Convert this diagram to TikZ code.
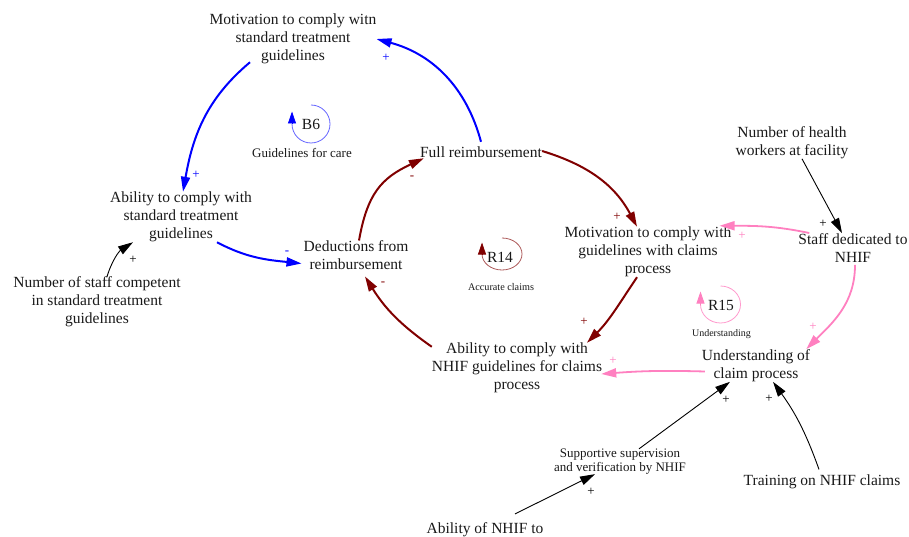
\documentclass[tikz,border=0pt]{standalone}
\usepackage{fontspec}
\setmainfont{Liberation Serif}
\usetikzlibrary{arrows.meta}
\definecolor{cldblue}{RGB}{0,0,255}
\definecolor{cldred}{RGB}{128,0,0}
\definecolor{cldpink}{RGB}{255,128,192}
\definecolor{txtcol}{RGB}{25,25,25}
% invisible struts that fix the height of the first and the depth of the last line
\newcommand{\bigvstrut}{\rule[-2.6pt]{0pt}{18pt}}
\newcommand{\smallvstrut}{\rule[-1.05pt]{0pt}{13.5pt}}

\begin{document}
\begin{tikzpicture}[x=1pt,y=1pt,
  var/.style={align=center, inner sep=0pt, text=txtcol,
    font=\fontsize{15.5}{18}\selectfont,
    execute at begin node=\bigvstrut, execute at end node=\bigvstrut},
  smallvar/.style={align=center, inner sep=0pt, text=txtcol,
    font=\fontsize{13}{13.5}\selectfont,
    execute at begin node=\smallvstrut, execute at end node=\smallvstrut},
  sign/.style={inner sep=0pt, font=\fontsize{13}{13}\selectfont},
  tip/.style={-{Triangle[length=15pt,width=9pt]}},
  blink/.style={tip, cldblue, line width=2pt},
  rlink/.style={tip, cldred, line width=2pt},
  plink/.style={tip, cldpink, line width=1.8pt},
  klink/.style={tip, black, line width=0.9pt},
  loopname/.style={inner sep=0pt, text=txtcol, font=\fontsize{15.5}{18}\selectfont},
  loopnote/.style={inner sep=0pt, text=txtcol},
  looptip/.style={-{Triangle[length=12pt,width=8pt]}, line width=0.8pt}
]
\useasboundingbox (0,0) rectangle (909,-537);

% ---- variables ----
\node[var] (mstd) at (293,-39) {Motivation to comply witn\\standard treatment\\guidelines};
\node[var] (ast) at (181,-217) {Ability to comply with\\standard treatment\\guidelines};
\node[var] (nsc) at (97,-302) {Number of staff competent\\in standard treatment\\guidelines};
\node[var] (ded) at (356,-256.5) {Deductions from\\reimbursement};
\node[var] (full) at (481,-151) {Full reimbursement};
\node[var] (mcl) at (648,-252) {Motivation to comply with\\guidelines with claims\\process};
\node[var] (nhw) at (792,-142.5) {Number of health\\workers at facility};
\node[var] (staff) at (853,-249) {Staff dedicated to\\NHIF};
\node[var] (anh) at (517,-368) {Ability to comply with\\NHIF guidelines for claims\\process};
\node[var] (und) at (756,-365.5) {Understanding of\\claim process};
\node[smallvar] (sup) at (620,-461.5) {Supportive supervision\\and verification by NHIF};
\node[var] (train) at (822,-479) {Training on NHIF claims};
\node[var] (anh2) at (485,-527.5) {Ability of NHIF to};

% ---- B6 loop (blue) ----
\draw[blink] (full.north) to[out=105,in=-15] (mstd.east);
\draw[blink] ([shift={(-43,2)}]mstd.south) to[out=220,in=80] ([xshift=2]ast.north);
\draw[blink] ([xshift=36]ast.south) to[out=-28,in=174] ([shift={(-2,-7)}]ded.west);

% ---- R14 loop (dark red) ----
\draw[rlink] ([xshift=3]ded.north) to[out=80,in=205,looseness=1.15] ([shift={(4,2)}]full.south west);
\draw[rlink] (full.east) to[out=-17,in=118] ([xshift=-11]mcl.north);
\draw[rlink] ([xshift=-11]mcl.south) to[out=236,in=45] ([xshift=70]anh.north);
\draw[rlink] ([yshift=-4]anh.north west) to[out=145,in=-58] ([shift={(9,-4)}]ded.south);

% ---- R15 loop (pink) ----
\draw[plink] ([xshift=11]staff.north west) to[out=168,in=0] ([shift={(-12,1)}]mcl.north east);
\draw[plink] ([xshift=2]staff.south) to[out=-90,in=45] ([xshift=-4]und.north east);
\draw[plink] ([shift={(3,-6)}]und.west) to[bend right=3] ([shift={(-1,-6)}]anh.east);

% ---- external influences ----
\draw[klink] ([xshift=10]nhw.south) -- ([xshift=-11]staff.north);
\draw[klink] ([xshift=10]nsc.north) to[bend left=20] ([xshift=23]ast.south west);
\draw[klink] ([xshift=19]sup.north) -- ([xshift=-26]und.south);
\draw[klink] ([xshift=-3]train.north) to[bend right=8] ([xshift=17]und.south);
\draw[klink] ([shift={(30,4)}]anh2.north) -- ([xshift=-25]sup.south);

% ---- polarity signs ----
\node[sign, text=cldblue] (p1) at (386,-58) {+};
\node[sign, text=cldblue] (p2) at (196,-175) {+};
\node[sign, text=cldblue] (p3) at (287,-253) {-};
\node[sign, text=cldred] (p4) at (412,-178) {-};
\node[sign, text=cldred] (p5) at (617,-217) {+};
\node[sign, text=cldred] (p6) at (584,-322) {+};
\node[sign, text=cldred] (p7) at (383,-284) {-};
\node[sign, text=cldpink] (p8) at (742,-236) {+};
\node[sign, text=cldpink] (p9) at (813,-327) {+};
\node[sign, text=cldpink] (p10) at (613,-361) {+};
\node[sign, text=black] (p11) at (823,-224) {+};
\node[sign, text=black] (p12) at (133,-260) {+};
\node[sign, text=black] (p13) at (726,-400) {+};
\node[sign, text=black] (p14) at (769,-399) {+};
\node[sign, text=black] (p15) at (591,-492) {+};

% ---- loop markers ----
\coordinate (b6c) at (311,-124);
\draw[cldblue!60, line width=0.8pt] ([shift={(90:19)}]b6c) arc[start angle=90, end angle=-180, radius=19];
\draw[looptip, cldblue] ([shift={(180:19)}]b6c) -- ++(0,12.5);
\node[loopname] (b6) at (311,-124) {B6};
\node[loopnote, font=\fontsize{13}{13}\selectfont] (b6n) at (302,-153) {Guidelines for care};

\coordinate (r14c) at (502,-254);
\draw[cldred!65, line width=0.8pt] ([shift={(0,16)}]r14c) arc[start angle=90, end angle=-180, x radius=20, y radius=16];
\draw[looptip, cldred] ([shift={(-20,0)}]r14c) -- ++(0,11.5);
\node[loopname] (r14) at (500,-257) {R14};
\node[loopnote, font=\fontsize{10.2}{11}\selectfont] (r14n) at (501,-287) {Accurate claims};

\coordinate (r15c) at (720.5,-304.5);
\draw[cldpink!80, line width=0.8pt] ([shift={(0,18.5)}]r15c) arc[start angle=90, end angle=-180, x radius=20, y radius=18.5];
\draw[looptip, cldpink] ([shift={(-20,0)}]r15c) -- ++(0,13);
\node[loopname] (r15) at (721,-305) {R15};
\node[loopnote, font=\fontsize{10}{11}\selectfont] (r15n) at (721.5,-334) {Understanding};
\end{tikzpicture}
\end{document}
